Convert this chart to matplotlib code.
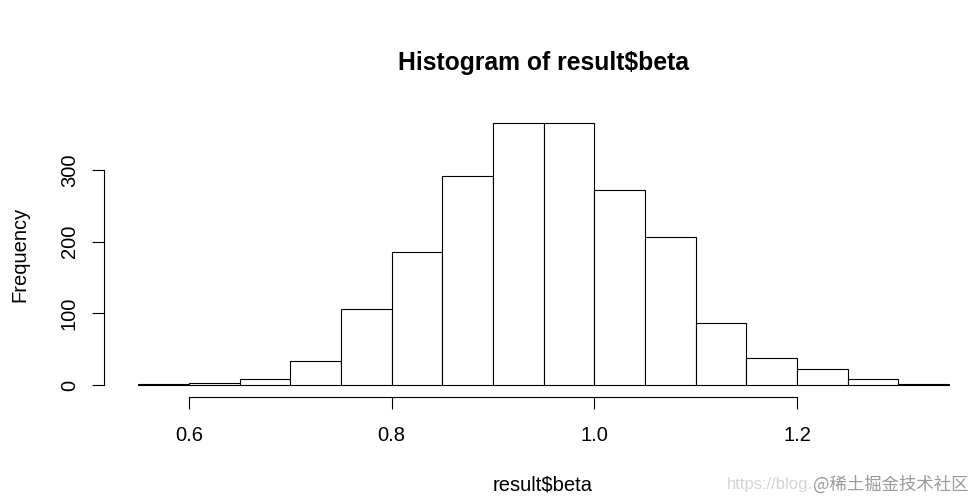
import numpy as np
import matplotlib
matplotlib.use("Agg")
import matplotlib.pyplot as plt

# histogram data
bin_edges = [0.55, 0.60, 0.65, 0.70, 0.75, 0.80, 0.85, 0.90, 0.95,
             1.00, 1.05, 1.10, 1.15, 1.20, 1.25, 1.30, 1.35]
counts = [1, 3, 9, 34, 106, 186, 292, 366, 365, 272, 207, 87, 38, 23, 9, 1]
x_ticks = [0.6, 0.8, 1.0, 1.2]
x_tick_labels = ["0.6", "0.8", "1.0", "1.2"]
y_ticks = [0, 100, 200, 300]

plt.rcParams['font.family'] = ['Liberation Sans', 'DejaVu Sans']

W, H = 977, 501
fig = plt.figure(figsize=(W / 100, H / 100), dpi=100)

# plot region in pixels (from top): left 104, bottom 397, top 112
left, right, top, bottom = 104, 977, 112, 397
ax = fig.add_axes([left / W, (H - bottom) / H, (right - left) / W, (bottom - top) / H])

widths = np.diff(bin_edges)
ax.bar(bin_edges[:-1], counts, width=widths, align='edge',
       facecolor='white', edgecolor='black', linewidth=0.8)

px_per_x = (797 - 189) / 0.6
px_per_y = (385 - 170) / 300
ax.set_xlim(0.6 - (189 - left) / px_per_x, 0.6 + (right - 189) / px_per_x)
ax.set_ylim(-(bottom - 385) / px_per_y, (385 - top) / px_per_y)

for s in ['top', 'right']:
    ax.spines[s].set_visible(False)
ax.spines['left'].set_bounds(0, 300)
ax.spines['bottom'].set_bounds(0.6, 1.2)
for s in ['left', 'bottom']:
    ax.spines[s].set_linewidth(0.8)

ax.set_xticks(x_ticks)
ax.set_xticklabels(x_tick_labels)
ax.set_yticks(y_ticks)
ax.tick_params(direction='out', length=8.6, width=0.8, labelsize=14.5, colors='black')
ax.tick_params(axis='x', pad=12)
ax.tick_params(axis='y', pad=9.5)
for lab in ax.get_yticklabels():
    lab.set_rotation(90)
    lab.set_va('center')

fig.text(543 / W, 1 - 63 / H, "Histogram of result$beta", ha='center', va='center',
         fontsize=17.8, fontweight='bold')
fig.text(543 / W, 1 - 485 / H, "result$beta", ha='center', va='center', fontsize=14.5)
fig.text(20 / W, 1 - 254 / H, "Frequency", ha='center', va='center', rotation=90, fontsize=14.5)

# watermark
fig.text(727 / W, 1 - 485 / H, "https://blog.", ha='left', va='center',
         fontsize=12, color='#d4d4d4')
fig.text(968 / W, 1 - 485 / H, "@稀土掘金技术社区", ha='right', va='center',
         fontsize=12.5, color='#9a9a9a', family=['Noto Sans CJK SC', 'DejaVu Sans'])

fig.savefig("out.png", dpi=100)
